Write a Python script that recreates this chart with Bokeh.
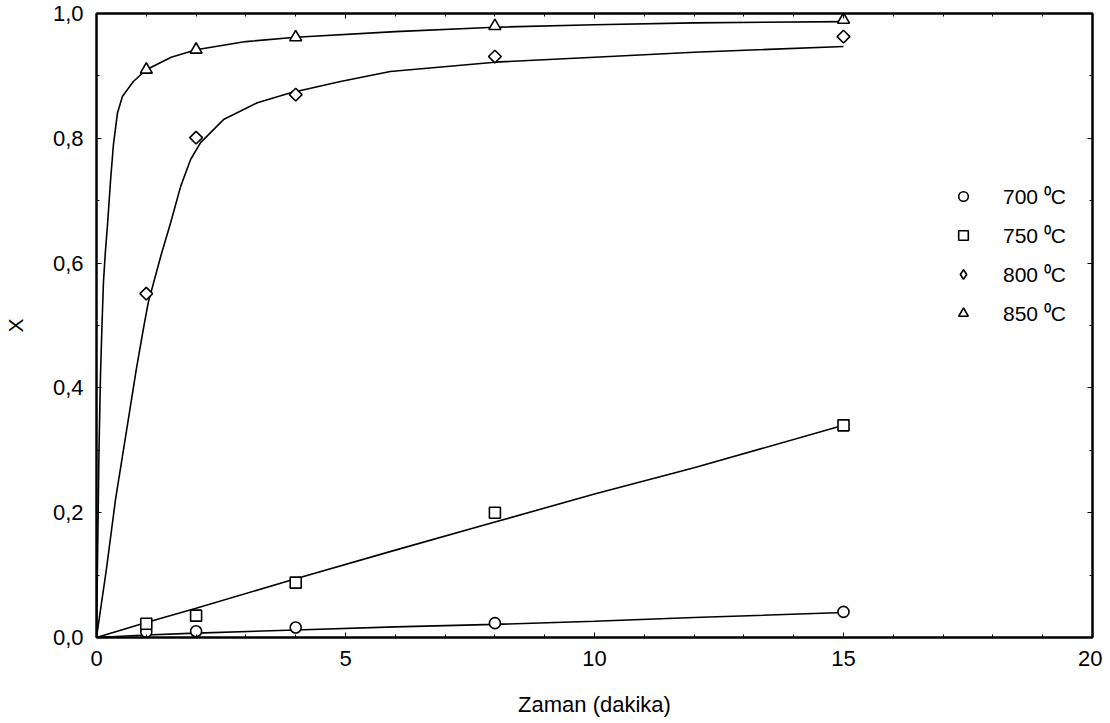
from bokeh.plotting import figure
from bokeh.models import (Range1d, LinearAxis, SingleIntervalTicker, CustomJSTickFormatter,
                          Legend, LegendItem)
from bokeh.embed import file_html
from bokeh.resources import INLINE

# ---- data ----
time_min = [1, 2, 4, 8, 15]
x_700 = [0.009, 0.010, 0.016, 0.023, 0.041]
x_750 = [0.022, 0.035, 0.088, 0.200, 0.340]
x_800 = [0.551, 0.801, 0.870, 0.931, 0.963]
x_850 = [0.910, 0.942, 0.962, 0.980, 0.990]

fit_t_lin = [0, 1, 2, 4, 6, 8, 10, 12, 15]
fit_700 = [0.0, 0.004, 0.007, 0.012, 0.017, 0.021, 0.026, 0.032, 0.040]
fit_750 = [0.0, 0.024, 0.047, 0.094, 0.140, 0.185, 0.230, 0.272, 0.340]

fit_t_800 = [0, 0.2, 0.38, 0.6, 0.8, 0.94, 1.04, 1.29, 1.49, 1.69, 1.89, 2.09, 2.55,
             3.23, 3.9, 4.9, 5.9, 8, 10, 12, 15]
fit_800 = [0.0, 0.11, 0.22, 0.33, 0.43, 0.494, 0.537, 0.611, 0.665, 0.723, 0.766, 0.793,
           0.830, 0.857, 0.873, 0.891, 0.907, 0.922, 0.930, 0.938, 0.947]

fit_t_850 = [0, 0.02, 0.05, 0.08, 0.11, 0.14, 0.18, 0.22, 0.28, 0.34, 0.42, 0.52, 0.74,
             1, 1.5, 2, 3, 4, 6, 8, 10, 12, 15]
fit_850 = [0.0, 0.12, 0.30, 0.42, 0.50, 0.57, 0.62, 0.66, 0.73, 0.79, 0.84, 0.867, 0.891,
           0.910, 0.930, 0.942, 0.955, 0.962, 0.971, 0.978, 0.982, 0.985, 0.987]

series_labels = ["700 \u2070C", "750 \u2070C", "800 \u2070C", "850 \u2070C"]
x_label = "Zaman (dakika)"
y_label = "X"

FONT = "Liberation Sans"

p = figure(frame_width=996, frame_height=624,
           min_border_left=89, min_border_right=10, min_border_top=13, min_border_bottom=70,
           x_range=Range1d(0, 20), y_range=Range1d(0, 1),
           output_backend="svg", toolbar_location=None, tools="")
p.background_fill_color = "white"
p.border_fill_color = "white"
p.outline_line_color = "black"
p.outline_line_width = 2
p.xgrid.visible = False
p.ygrid.visible = False

p.xaxis.ticker = SingleIntervalTicker(interval=5, num_minor_ticks=5)
p.yaxis.ticker = SingleIntervalTicker(interval=0.2, num_minor_ticks=2)
p.yaxis.formatter = CustomJSTickFormatter(code="return tick.toFixed(1).replace('.', ',');")

for ax in (p.xaxis[0], p.yaxis[0]):
    ax.axis_line_color = "black"
    ax.axis_line_width = 2
    ax.major_tick_in = 5
    ax.major_tick_out = 0
    ax.minor_tick_in = 3
    ax.minor_tick_out = 0
    ax.major_tick_line_color = "black"
    ax.minor_tick_line_color = "black"
    ax.major_label_text_font = FONT
    ax.major_label_text_font_size = "22px"
    ax.major_label_text_color = "black"
    ax.axis_label_text_font = FONT
    ax.axis_label_text_font_style = "normal"
    ax.axis_label_text_color = "black"

p.xaxis.axis_label = x_label
p.yaxis.axis_label = y_label
p.xaxis.axis_label_text_font_size = "22px"
p.yaxis.axis_label_text_font_size = "21px"
p.xaxis.major_label_standoff = 13
p.xaxis.axis_label_standoff = 23
p.yaxis.major_label_standoff = 13
p.yaxis.axis_label_standoff = 23

# inward ticks on top and right sides (no labels)
top = LinearAxis(ticker=SingleIntervalTicker(interval=5, num_minor_ticks=5),
                 formatter=CustomJSTickFormatter(code="return '';"))
right = LinearAxis(ticker=SingleIntervalTicker(interval=0.2, num_minor_ticks=2),
                   formatter=CustomJSTickFormatter(code="return '';"))
for ax in (top, right):
    ax.axis_line_color = "black"
    ax.axis_line_width = 2
    ax.major_tick_in = 5
    ax.major_tick_out = 0
    ax.minor_tick_in = 3
    ax.minor_tick_out = 0
    ax.major_label_standoff = 0
p.add_layout(top, "above")
p.add_layout(right, "right")

# fitted curves
lw = 1.6
p.line(fit_t_lin, fit_700, line_color="black", line_width=lw)
p.line(fit_t_lin, fit_750, line_color="black", line_width=lw)
p.line(fit_t_800, fit_800, line_color="black", line_width=lw)
p.line(fit_t_850, fit_850, line_color="black", line_width=lw)

mk = dict(line_color="black", fill_color="white", line_width=1.6)
r700 = p.scatter(time_min, x_700, marker="circle", size=11, **mk)
r750 = p.scatter(time_min, x_750, marker="square", size=11, **mk)
r800 = p.scatter(time_min, x_800, marker="square", size=9, angle=0.785398, **mk)
r850 = p.scatter(time_min, x_850, marker="triangle", size=12, **mk)
# legend-only key for the rotated-square (diamond) series; its point is NaN, so it is not drawn in the plot
r800_key = p.scatter([float("nan")], [float("nan")], marker="diamond", size=14, **mk)

legend = Legend(items=[LegendItem(label=series_labels[0], renderers=[r700]),
                       LegendItem(label=series_labels[1], renderers=[r750]),
                       LegendItem(label=series_labels[2], renderers=[r800_key]),
                       LegendItem(label=series_labels[3], renderers=[r850])],
                location=(855, 305), padding=0, margin=0, spacing=0,
                glyph_width=24, glyph_height=24, label_height=39, label_standoff=28,
                label_text_font=FONT, label_text_font_size="21px",
                label_text_color="black",
                border_line_color=None, background_fill_alpha=0)
p.add_layout(legend, "center")

open("out.html", "w").write(file_html(p, INLINE))
